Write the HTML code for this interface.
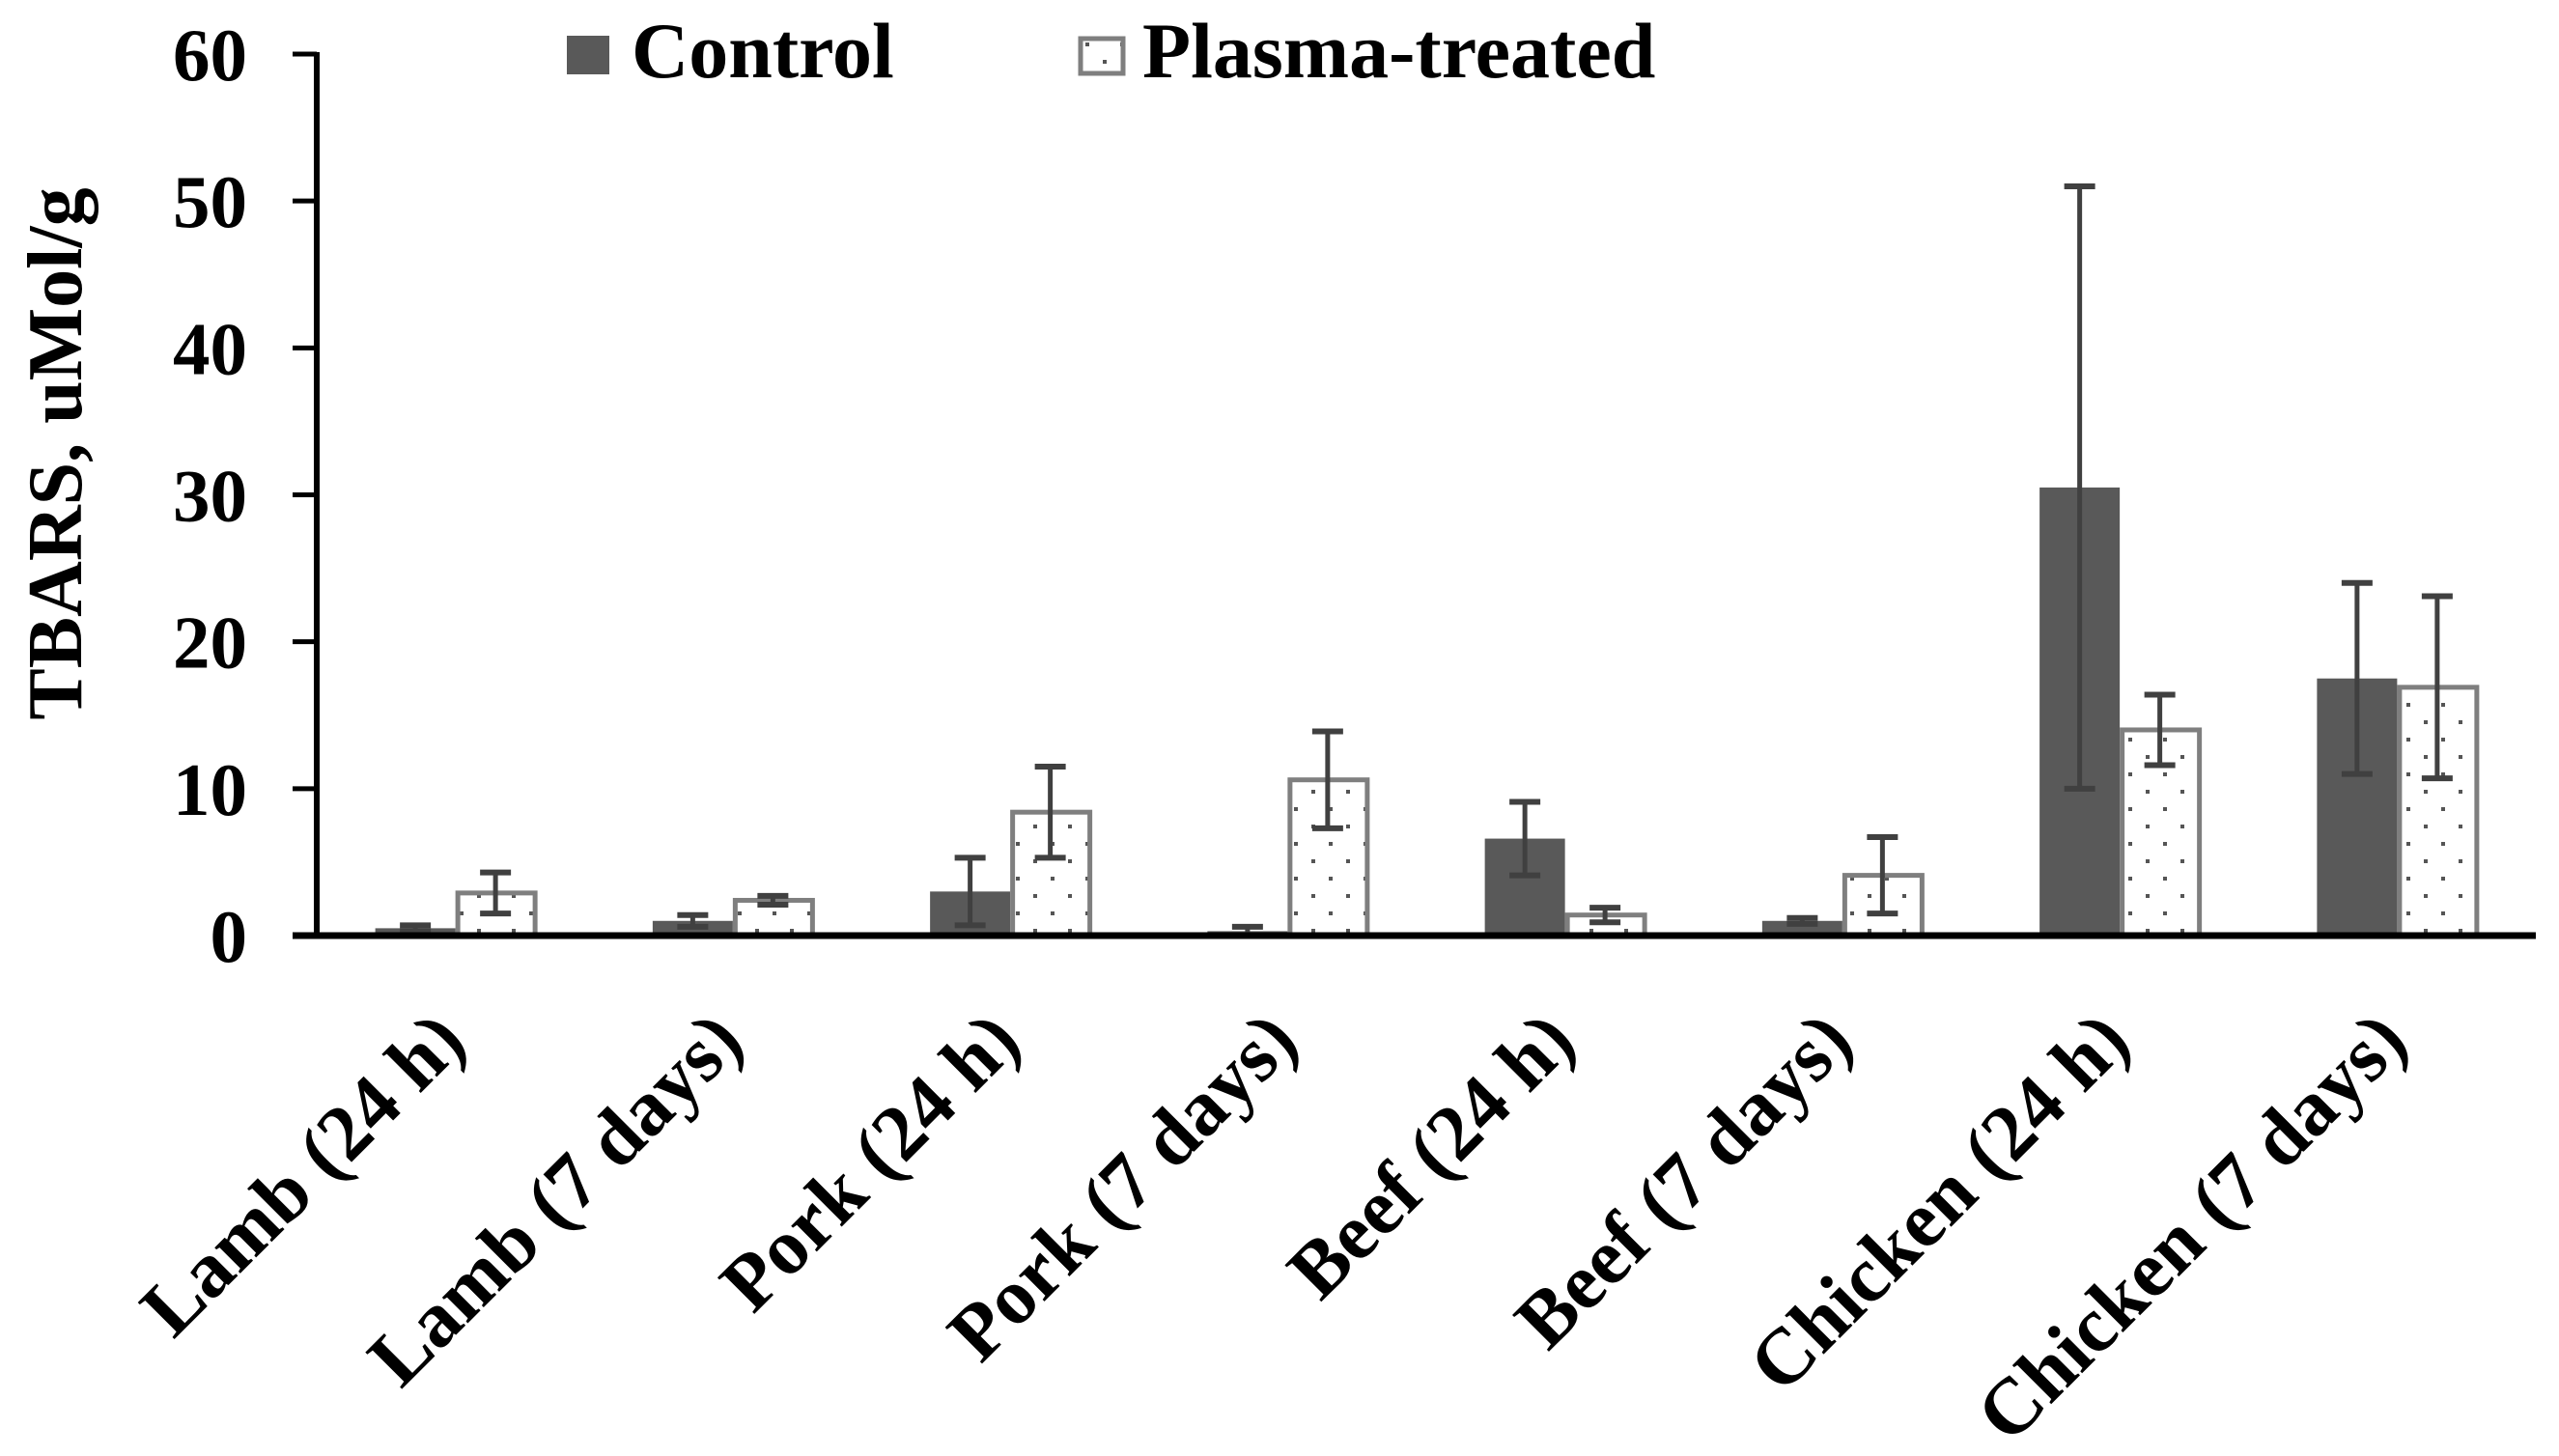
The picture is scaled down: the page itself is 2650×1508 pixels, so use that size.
<!DOCTYPE html>
<html><head><meta charset="utf-8"><style>
body{margin:0;background:#fff}
svg text{font-family:"Liberation Serif","Times New Roman",serif;font-weight:bold;fill:#000}
</style></head><body>
<svg id="chart" width="2650" height="1503" viewBox="0 0 2650 1503" xmlns="http://www.w3.org/2000/svg" font-family="Liberation Serif, Times New Roman, serif" font-weight="bold">
<defs>
<pattern id="dots" width="36" height="36" patternUnits="userSpaceOnUse">
<rect x="8" y="8" width="4" height="4" fill="#555"/><rect x="26" y="26" width="4" height="4" fill="#555"/>
</pattern>
</defs>
<g id="plot"></g>
<rect x="587" y="37" width="44" height="40" fill="#595959"/>
<text x="654" y="80" font-size="82" font-family="Liberation Serif, serif">Control</text>
<rect x="1119" y="40" width="44" height="36" fill="url(#dots)" stroke="#7f7f7f" stroke-width="5"/>
<text x="1183" y="80" font-size="82" font-family="Liberation Serif, serif">Plasma-treated</text>
<text transform="translate(84,470) rotate(-90)" text-anchor="middle" font-size="80" font-family="Liberation Serif, serif">TBARS, uMol/g</text>
</svg>
<script>
const categories=["Lamb (24 h)","Lamb (7 days)","Pork (24 h)","Pork (7 days)","Beef (24 h)","Beef (7 days)","Chicken (24 h)","Chicken (7 days)"];
const controlVals=[0.5,1.0,3.0,0.3,6.6,1.0,30.5,17.5];
const controlErr=[0.2,0.4,2.3,0.3,2.5,0.2,20.5,6.5];
const plasmaVals=[2.9,2.4,8.4,10.6,1.4,4.1,14.0,16.9];
const plasmaErr=[1.4,0.3,3.1,3.3,0.5,2.6,2.4,6.2];
const yTicks=[0,10,20,30,40,50,60];
const NS="http://www.w3.org/2000/svg";
const x0=328,x1=2626,y0=969,yTop=56,yMax=60;
const band=(x1-x0)/categories.length, bw=83;
const ys=v=>y0-(y0-yTop)*v/yMax;
const xc=i=>x0+band*(i+0.5);
const g=document.getElementById('plot');
function mk(tag,attrs){const e=document.createElementNS(NS,tag);for(const k in attrs)e.setAttribute(k,attrs[k]);g.appendChild(e);return e;}
yTicks.forEach(t=>{
  const l=mk('line',{x1:303,x2:x0,y1:ys(t),y2:ys(t),stroke:'#000','stroke-width':5});
  
  
  const tx=mk('text',{x:256,y:ys(t)+27,'text-anchor':'end','font-size':77,'font-family':'Liberation Serif, serif'});
  tx.textContent=t;
  
  
});
function err(cx,v,e){
  const a=mk('line',{x1:cx,x2:cx,y1:ys(v+e),y2:ys(Math.max(0,v-e)),stroke:'#404040','stroke-width':5});
  
  
  [v+e,Math.max(0,v-e)].forEach(q=>{
    const c=mk('line',{x1:cx-16,x2:cx+16,y1:ys(q),y2:ys(q),stroke:'#404040','stroke-width':6});
    
    
  });
}
categories.forEach((c,i)=>{
  const cx=xc(i);
  const r1=mk('rect',{x:cx-bw,y:ys(controlVals[i]),width:bw,height:y0-ys(controlVals[i]),fill:'#595959'});
  
  
  const r2=mk('rect',{x:cx+2.5,y:ys(plasmaVals[i]),width:bw-3,height:y0-ys(plasmaVals[i]),fill:'url(#dots)',stroke:'#7f7f7f','stroke-width':5});
  
  
  err(cx-bw/2,controlVals[i],controlErr[i]);
  err(cx+bw/2,plasmaVals[i],plasmaErr[i]);
  const t=mk('text',{transform:`translate(${cx+14},1082) rotate(-45)`,'text-anchor':'end','font-size':82,'font-family':'Liberation Serif, serif'});
  t.textContent=c;
  
  
});
const ya=mk('line',{x1:x0,x2:x0,y1:yTop-2,y2:y0+3,stroke:'#000','stroke-width':6});


const xa=mk('line',{x1:303,x2:x1,y1:y0,y2:y0,stroke:'#000','stroke-width':7});


</script>
</body></html>
